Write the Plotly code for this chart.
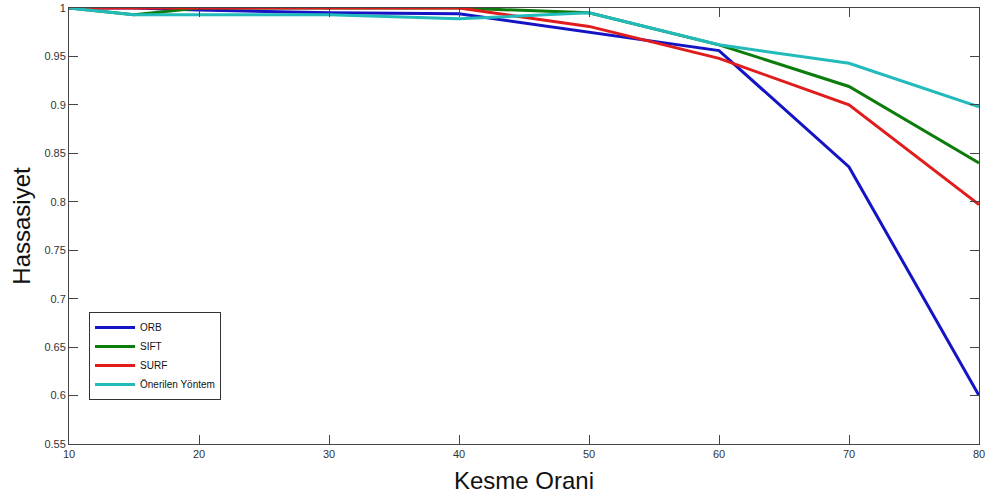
import plotly.graph_objects as go

# kesme orani (x) ve hassasiyet degerleri
kesme = [10, 15, 20, 30, 40, 50, 60, 70, 80]
orb = [1.0, 1.0, 0.998, 0.995, 0.994, 0.975, 0.956, 0.836, 0.600]
sift = [1.0, 0.993, 1.0, 1.0, 1.0, 0.995, 0.962, 0.919, 0.840]
surf = [1.0, 1.0, 1.0, 1.0, 1.0, 0.981, 0.948, 0.900, 0.797]
onerilen = [1.0, 0.993, 0.993, 0.993, 0.989, 0.995, 0.962, 0.943, 0.898]

x_ticks = [10, 20, 30, 40, 50, 60, 70, 80]
y_ticks = [0.55, 0.6, 0.65, 0.7, 0.75, 0.8, 0.85, 0.9, 0.95, 1]

_FONT = "Liberation Sans, Arial, sans-serif"

series = [
    ("ORB", orb, "#1414c4"),
    ("SIFT", sift, "#0c7c0c"),
    ("SURF", surf, "#e01c1c"),
    ("Önerilen Yöntem", onerilen, "#22baba"),
]

fig = go.Figure()
for name, vals, color in series:
    fig.add_trace(go.Scatter(
        x=kesme, y=vals, mode="lines", name=name,
        line=dict(color=color, width=3),
    ))

axis_common = dict(
    showgrid=False, zeroline=False, automargin=False,
    showline=True, linecolor="#444444", linewidth=1, mirror="ticks",
    ticks="inside", ticklen=9, tickcolor="#444444", tickwidth=1,
    tickfont=dict(family=_FONT, size=11, color="#333333"),
    ticklabeloverflow="allow",
)

fig.update_layout(
    width=985, height=497,
    margin=dict(l=69, r=6, t=8, b=53),
    paper_bgcolor="white", plot_bgcolor="white",
    font=dict(family=_FONT),
    legend=dict(
        x=0.022, y=0.303, xanchor="left", yanchor="top",
        bgcolor="white", bordercolor="#333333", borderwidth=1,
        font=dict(family=_FONT, size=10, color="#111111"),
        tracegroupgap=0, itemwidth=40,
    ),
    showlegend=True,
)
fig.update_xaxes(
    range=[10, 80], tickvals=x_ticks,
    title=dict(text="Kesme Orani", font=dict(family=_FONT, size=24, color="#111111"), standoff=12),
    **axis_common,
)
fig.update_yaxes(
    range=[0.55, 1], tickvals=y_ticks,
    ticktext=[f"{v:g}" for v in y_ticks],
    title=dict(text="Hassasiyet", font=dict(family=_FONT, size=24, color="#111111"), standoff=6),
    **axis_common,
)

# page body has a default 8px margin; drop it so the figure sits at the window corner
fig.write_html(
    "out.html",
    config={"displayModeBar": False},
    post_script="document.body.style.margin='0';",
)
